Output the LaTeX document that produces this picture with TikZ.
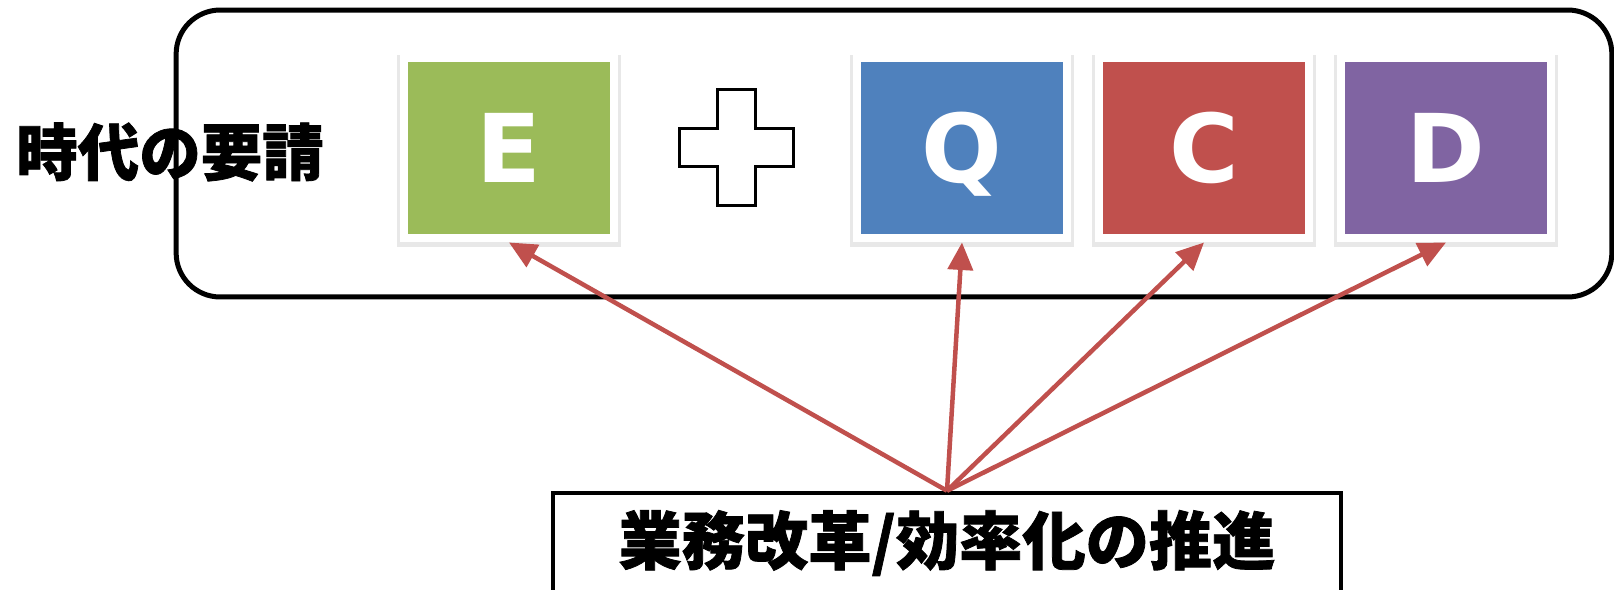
\documentclass[tikz,border=0pt]{standalone}
\usepackage{fontspec}
\usetikzlibrary{arrows.meta,shadows}
\newfontfamily\jpfont{Noto Sans CJK JP}[BoldFeatures={FakeBold=1.2}]
\newfontfamily\capfont{DejaVu Sans}
\definecolor{egreen}{HTML}{9BBB59}
\definecolor{qblue}{HTML}{4F81BD}
\definecolor{cred}{HTML}{C0504D}
\definecolor{dpurple}{HTML}{8064A2}

\begin{document}
\begin{tikzpicture}[x=0.02cm,y=-0.02cm,
  card/.style={fill=#1,draw=white,line width=0.16cm,minimum width=4.22cm,minimum height=3.62cm,
    inner sep=0pt,text=white,font=\capfont\bfseries\fontsize{54}{54}\selectfont,
    text height=1.4cm,text depth=0pt,
    drop shadow={shadow xshift=0cm,shadow yshift=-0.05cm,shadow scale=1.06,opacity=0.18}},
  arr/.style={draw=cred,line width=0.09cm,-{Triangle[length=0.55cm,width=0.5cm]}}]
\useasboundingbox (0,0) rectangle (1614,589);
\node[draw,line width=0.1cm,rounded corners=0.88cm,minimum width=28.72cm,minimum height=5.74cm] (era) at (894,153.5) {};
\node[anchor=west,inner sep=0pt,font=\jpfont\bfseries\fontsize{35}{35}\selectfont] (title) at (16,152) {時代の要請};
\node[card=egreen] (e) at (509,148) {E};
\node[card=qblue] (q) at (962,148) {Q};
\node[card=cred] (c) at (1204,148) {C};
\node[card=dpurple] (d) at (1446,148) {D};
\draw[line width=0.06cm,fill=white,shift={(736,147)}] (-19,-58) -- (19,-58) -- (19,-19) -- (57,-19) -- (57,19) -- (19,19) -- (19,58) -- (-19,58) -- (-19,19) -- (-57,19) -- (-57,-19) -- (-19,-19) -- cycle;
\node[draw,line width=0.09cm,minimum width=15.76cm,minimum height=2cm,font=\jpfont\bfseries\fontsize{36}{36}\selectfont] (reform) at (947,543) {業務改革/効率化の推進};
\foreach \t in {e,q,c,d}
  \draw[arr] (reform.north) -- (\t.south);
\end{tikzpicture}
\end{document}
